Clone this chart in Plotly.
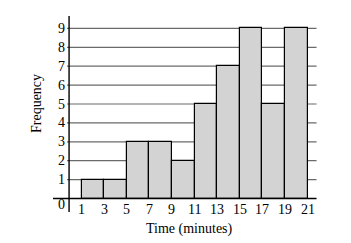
import plotly.graph_objects as go

# Data
bin_starts = [1, 3, 5, 7, 9, 11, 13, 15, 17, 19]
bin_width = 2
frequencies = [1, 1, 3, 3, 2, 5, 7, 9, 5, 9]
x_tick_values = [1, 3, 5, 7, 9, 11, 13, 15, 17, 19, 21]
y_tick_values = [1, 2, 3, 4, 5, 6, 7, 8, 9]
x_title = "Time (minutes)"
y_title = "Frequency"

FONT = "Liberation Serif, Times New Roman, serif"
FS = 14

centers = [s + bin_width / 2 for s in bin_starts]

fig = go.Figure()
fig.add_trace(go.Bar(
    x=centers, y=frequencies, width=[bin_width] * len(centers),
    marker=dict(color="#d3d3d3", line=dict(color="black", width=1.2)),
    showlegend=False, hoverinfo="skip",
))

shapes = []
# gridlines
for v in y_tick_values:
    shapes.append(dict(type="line", xref="x", yref="y", x0=-0.28, x1=21.8, y0=v, y1=v,
                       line=dict(color="#6a6a6a", width=1.2), layer="below"))
# x axis line
shapes.append(dict(type="line", xref="x", yref="y", x0=-1.52, x1=21.8, y0=0, y1=0,
                   line=dict(color="black", width=1.4), layer="above"))
# y axis line
shapes.append(dict(type="line", xref="x", yref="y", x0=-0.1, x1=-0.1, y0=-0.71, y1=9.66,
                   line=dict(color="black", width=1.4), layer="above"))

annotations = []
for v in y_tick_values:
    annotations.append(dict(x=-0.1, y=v, xref="x", yref="y", text=str(v), showarrow=False,
                            xanchor="right", yanchor="middle", xshift=-2,
                            font=dict(family=FONT, size=FS, color="black")))
for v in x_tick_values:
    annotations.append(dict(x=v, y=-0.6, xref="x", yref="y", text=str(v), showarrow=False,
                            xanchor="center", yanchor="middle",
                            font=dict(family=FONT, size=FS, color="black")))
annotations.append(dict(x=-0.81, y=-0.34, xref="x", yref="y", text="0", showarrow=False,
                        xanchor="center", yanchor="middle",
                        font=dict(family=FONT, size=FS, color="black")))
annotations.append(dict(x=10.56, y=-1.6, xref="x", yref="y", text=x_title, showarrow=False,
                        xanchor="center", yanchor="middle",
                        font=dict(family=FONT, size=FS, color="black")))
annotations.append(dict(x=-3.03, y=5.05, xref="x", yref="y", text=y_title, showarrow=False,
                        xanchor="center", yanchor="middle", textangle=-90,
                        font=dict(family=FONT, size=FS, color="black")))

fig.update_layout(
    width=351, height=243,
    margin=dict(l=0, r=0, t=0, b=0),
    paper_bgcolor="white", plot_bgcolor="white",
    xaxis=dict(visible=False, range=[-6.212, 24.85], domain=[0, 1], fixedrange=True),
    yaxis=dict(visible=False, range=[-2.354, 10.503], domain=[0, 1], fixedrange=True),
    shapes=shapes, annotations=annotations, bargap=0,
)

fig.write_html("out.html")
